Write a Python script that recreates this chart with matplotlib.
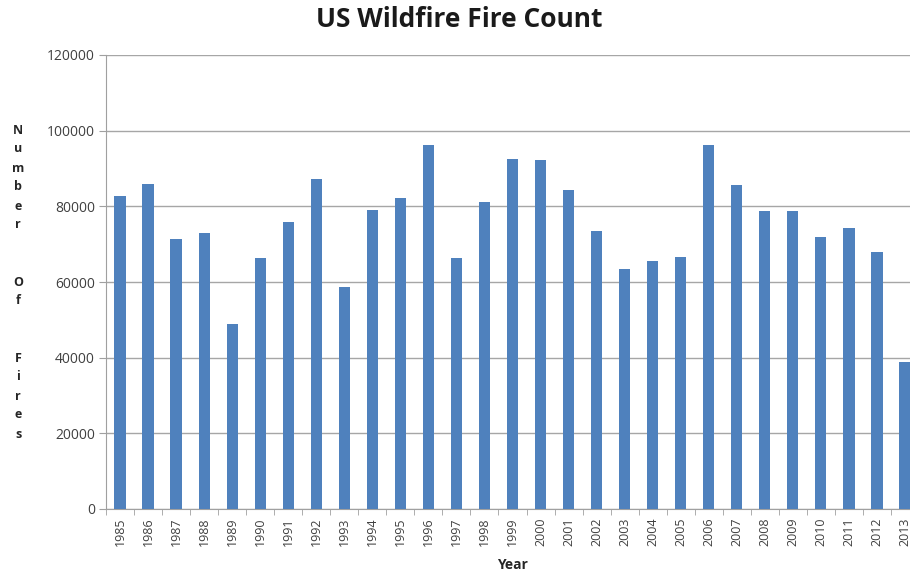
import matplotlib
matplotlib.use('Agg')
import matplotlib.pyplot as plt
import numpy as np

# data
years = list(range(1985, 2014))
fires = [82600, 85960, 71330, 72920, 48850, 66300, 75740, 87290, 58810, 79090,
         82260, 96280, 66300, 81020, 92580, 92310, 84200, 73530, 63480, 65420,
         66650, 96280, 85700, 78820, 78820, 71940, 74150, 67890, 38800]
y_ticks = [0, 20000, 40000, 60000, 80000, 100000, 120000]

plt.rcParams['font.family'] = ['Open Sans', 'DejaVu Sans']

fig = plt.figure(figsize=(9.1, 5.73), dpi=100)
# plot area runs a little past the right edge, like the cropped original
ax = fig.add_axes([106/910, 1 - 509/573, 813/910, 454/573])

x = np.arange(len(years))
ax.bar(x, fires, width=0.4, color='#4F81BD', zorder=3)

ax.set_xlim(-0.5, len(years) - 0.5)
ax.set_ylim(0, 120000)
ax.set_yticks(y_ticks)
ax.set_yticklabels([str(v) for v in y_ticks], fontsize=10, color='#404040')
ax.set_xticks(x)
ax.set_xticklabels([str(y) for y in years], rotation=90, fontsize=9, color='#404040')
ax.set_xticks(np.arange(len(years) + 1) - 0.5, minor=True)
ax.tick_params(axis='x', which='major', length=0, pad=6)
ax.tick_params(axis='x', which='minor', length=4, color='#a0a0a0', direction='out')
ax.tick_params(axis='y', length=5, color='#a0a0a0', pad=3)

ax.grid(axis='y', color='#a6a6a6', linewidth=1, zorder=0)
for s in ['top', 'right']:
    ax.spines[s].set_visible(False)
for s in ['left', 'bottom']:
    ax.spines[s].set_color('#a0a0a0')

fig.text(0.505, 0.966, 'US Wildfire Fire Count', ha='center', va='center',
         fontsize=19, fontweight='bold', color='#1a1a1a')
fig.text(512/910, 1 - 565/573, 'Year', ha='center', va='center',
         fontsize=10, fontweight='bold', color='#262626')
ylab = '\n'.join(list('Number') + ['', ''] + list('Of') + ['', ''] + list('Fires'))
fig.text(18/910, 1 - 282/573, ylab, ha='center', va='center', fontsize=9,
         fontweight='bold', color='#262626', linespacing=1.6)

fig.savefig('out.png', dpi=100)
